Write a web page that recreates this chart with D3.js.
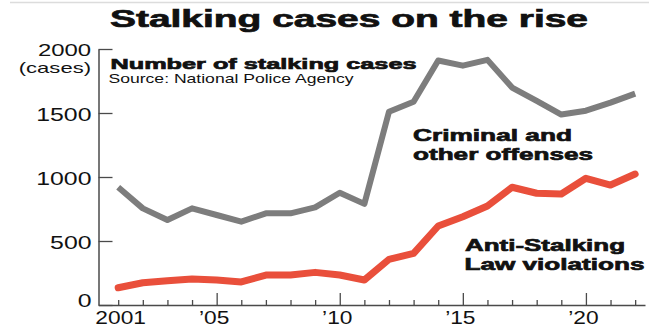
<!DOCTYPE html>
<html>
<head>
<meta charset="utf-8">
<script src="https://cdn.jsdelivr.net/npm/d3@7"></script>
<style>
body { margin: 0; background: #fff; }
svg { display: block; font-family: "Liberation Sans", Arial, sans-serif; }
</style>
</head>
<body>
<div id="chart"></div>
<script>
// stalking cases, National Police Agency
var years = [2001, 2002, 2003, 2004, 2005, 2006, 2007, 2008, 2009, 2010, 2011,
             2012, 2013, 2014, 2015, 2016, 2017, 2018, 2019, 2020, 2021, 2022];
var criminal = [920, 755, 664, 755, 703, 651, 716, 716, 763, 877, 790,
                1510, 1588, 1910, 1870, 1915, 1699, 1594, 1488, 1518, 1581, 1651];
var antiStalking = [135, 174, 190, 203, 195, 180, 234, 234, 255, 234, 195,
                    357, 404, 617, 690, 773, 920, 873, 867, 990, 937, 1023];
var yTicks = [0, 500, 1000, 1500, 2000];
var majorYears = [2005, 2010, 2015, 2020];
var labelYears = [2001, 2005, 2010, 2015, 2020];
var labelText = ["2001", "\u201905", "\u201910", "\u201915", "\u201920"];

var width = 649, height = 329;
var grayColor = "#7d7d7d", redColor = "#e94f3b", axisColor = "#4a4a4a";

var svg = d3.select("#chart").append("svg")
  .attr("width", width)
  .attr("height", height);

// thin rule at the very top
svg.append("line")
  .attr("x1", 10).attr("x2", width)
  .attr("y1", 2.5).attr("y2", 2.5)
  .attr("stroke", "#dcdcdc")
  .attr("stroke-width", 1.5);

var x = d3.scaleLinear().domain([2000.2, 2022.4]).range([98.5, 645]);
var y = d3.scaleLinear().domain([0, 2000]).range([305, 49]);

// y axis, ticks point inward
var sx = 1.38;
var yAxis = svg.append("g")
  .attr("transform", "translate(98.5,0)")
  .call(d3.axisLeft(y).tickValues(yTicks).tickSize(-14).tickSizeOuter(0).tickFormat(d3.format("d")));
yAxis.select(".domain").attr("stroke", axisColor).attr("stroke-width", 1.5);
yAxis.selectAll(".tick line").attr("stroke", axisColor).attr("stroke-width", 1.3);
yAxis.selectAll(".tick text")
  .attr("fill", "#111")
  .attr("font-size", function(d) { return d == 2000 ? "16.5px" : "18px"; })
  .attr("text-anchor", "end")
  .attr("x", -7 / sx)
  .attr("dy", 0)
  .attr("y", function(d) { return d == 2000 ? 6.6 : (d == 0 ? 1.2 : 7.4); })
  .attr("transform", function(d) { return "scale(" + (d == 2000 ? 1.45 : sx) + ",1)"; });

svg.append("text")
  .attr("transform", "translate(91,73) scale(1.47,1)")
  .attr("text-anchor", "end")
  .attr("font-size", "15px")
  .attr("fill", "#111")
  .text("(cases)");

// x axis, short ticks for every year, long ones every five
var xs = 1.3;
var xAxis = svg.append("g")
  .attr("transform", "translate(0,305)")
  .call(d3.axisBottom(x).tickValues(years).tickSize(-5).tickSizeOuter(0)
    .tickFormat(function(d) {
      var i = labelYears.indexOf(d);
      return i < 0 ? "" : labelText[i];
    }));
xAxis.select(".domain").attr("stroke", axisColor).attr("stroke-width", 1.5);
xAxis.selectAll(".tick line")
  .attr("stroke", axisColor)
  .attr("stroke-width", 1.3)
  .attr("y2", function(d) { return majorYears.indexOf(d) >= 0 ? -12 : -5; });
xAxis.selectAll(".tick text")
  .attr("fill", "#111")
  .attr("font-size", "17.5px")
  .attr("y", 19)
  .attr("dy", 0)
  .attr("dx", function(d) { return d == 2001 ? 1.5 : -3 / xs; })
  .attr("transform", "scale(" + xs + ",1)");

// lines
var line = d3.line()
  .x(function(d, i) { return x(years[i]); })
  .y(function(d) { return y(d); });

svg.append("path")
  .datum(criminal)
  .attr("d", line)
  .attr("fill", "none")
  .attr("stroke", grayColor)
  .attr("stroke-width", 6)
  .attr("stroke-linejoin", "round");

svg.append("path")
  .datum(antiStalking)
  .attr("d", line)
  .attr("fill", "none")
  .attr("stroke", redColor)
  .attr("stroke-width", 7)
  .attr("stroke-linejoin", "round")
  .attr("stroke-linecap", "round");

// text, stretched wide like the original
function label(txt, tx, ty, size, weight, len) {
  svg.append("text")
    .attr("x", tx)
    .attr("y", ty)
    .attr("font-size", size)
    .attr("font-weight", weight)
    .attr("fill", "#111")
    .attr("stroke", weight == "bold" ? "#111" : "none")
    .attr("stroke-width", 0.7)
    .attr("textLength", len)
    .attr("lengthAdjust", "spacingAndGlyphs")
    .text(txt);
}

label("Stalking cases on the rise", 110, 27, "24px", "bold", 478);
label("Number of stalking cases", 110.5, 68.5, "15.5px", "bold", 306);
label("Source: National Police Agency", 108.5, 82.5, "13.5px", "normal", 245);
label("Criminal and", 413, 140.5, "17px", "bold", 159);
label("other offenses", 413, 159.5, "17px", "bold", 180);
label("Anti-Stalking", 465, 251, "17px", "bold", 160);
label("Law violations", 464.5, 269.5, "17px", "bold", 180);
</script>
</body>
</html>
